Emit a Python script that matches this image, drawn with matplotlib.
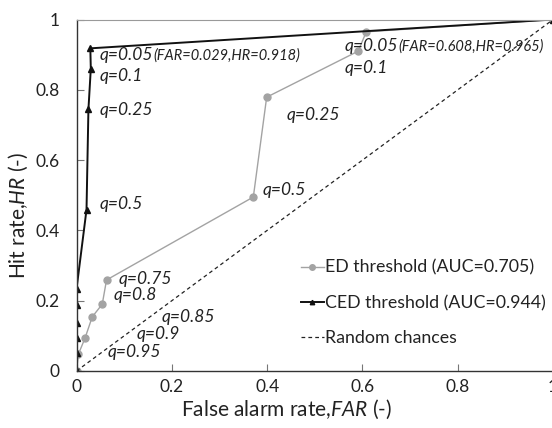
import matplotlib
matplotlib.use("Agg")
import matplotlib.pyplot as plt

plt.rcParams['font.family'] = ['Lato', 'DejaVu Sans']
plt.rcParams['mathtext.fontset'] = 'custom'
plt.rcParams['mathtext.it'] = 'Lato:italic'
plt.rcParams['mathtext.rm'] = 'Lato'

# ROC points (FAR, HR) for each threshold type
ed_far = [0.0, 0.004, 0.018, 0.033, 0.054, 0.063, 0.371, 0.399, 0.591, 0.608, 1.0]
ed_hr = [0.0, 0.048, 0.094, 0.154, 0.190, 0.259, 0.495, 0.779, 0.910, 0.965, 1.0]

ced_far = [0.0, 0.0, 0.0, 0.0, 0.0, 0.0, 0.021, 0.025, 0.030, 0.029, 1.0]
ced_hr = [0.0, 0.050, 0.093, 0.136, 0.188, 0.233, 0.459, 0.744, 0.860, 0.918, 1.0]

rand_x = [0.0, 1.0]
rand_y = [0.0, 1.0]

legend_labels = ["ED threshold (AUC=0.705)", "CED threshold (AUC=0.944)", "Random chances"]

# Quantile annotations: (text, FAR, HR)
ced_notes = [("q=0.1", 0.049, 0.84), ("q=0.25", 0.049, 0.743), ("q=0.5", 0.049, 0.476)]
ed_notes = [("q=0.1", 0.563, 0.862), ("q=0.25", 0.44, 0.729), ("q=0.5", 0.391, 0.516),
            ("q=0.75", 0.088, 0.262), ("q=0.8", 0.077, 0.216), ("q=0.85", 0.179, 0.155),
            ("q=0.9", 0.126, 0.105), ("q=0.95", 0.066, 0.055)]
ced_top = ("q=0.05", "(FAR=0.029,HR=0.918)", 0.049, 0.90)
ed_top = ("q=0.05", "(FAR=0.608,HR=0.965)", 0.563, 0.924)

fig = plt.figure(figsize=(5.52, 4.28), dpi=100)
ax = fig.add_axes([0.1386, 0.1332, 0.8634, 0.8212])

ed_color = "#a3a3a3"
ax.plot(ed_far, ed_hr, color=ed_color, lw=1.0, marker="o", ms=5, mfc=ed_color, mec=ed_color,
        label=legend_labels[0])
ax.plot(ced_far, ced_hr, color="#111111", lw=1.4, marker="^", ms=4, mfc="#111111", mec="#111111",
        label=legend_labels[1])
ax.plot(rand_x, rand_y, color="#222222", lw=0.9, ls=(0, (3, 2.5)), label=legend_labels[2])

note_kw = dict(fontsize=12.5, style="italic", color="#222222", va="center", ha="left")
for txt, x, y in ced_notes + ed_notes:
    ax.text(x, y, txt, **note_kw)

for main, sub, x, y in (ced_top, ed_top):
    t = ax.text(x, y, main, **note_kw)
    ax.annotate(sub, xy=(1, 0.45), xycoords=t, va="center", ha="left",
                fontsize=10.5, style="italic", color="#222222")

ax.set_xlim(0, 1)
ax.set_ylim(0, 1)
ax.set_xticks([0, 0.2, 0.4, 0.6, 0.8, 1])
ax.set_xticklabels(["0", "0.2", "0.4", "0.6", "0.8", "1"])
ax.set_yticks([0, 0.2, 0.4, 0.6, 0.8, 1])
ax.set_yticklabels(["0", "0.2", "0.4", "0.6", "0.8", "1"])
ax.tick_params(axis="both", direction="in", length=5, width=0.8, colors="#777777",
               labelcolor="#222222", labelsize=12.5)
ax.tick_params(axis="y", pad=12)
ax.tick_params(axis="x", pad=6)

for side in ("left", "bottom"):
    ax.spines[side].set_color("#333333")
    ax.spines[side].set_linewidth(1.0)
ax.spines["top"].set_color("#9a9a9a")
ax.spines["right"].set_color("#9a9a9a")

ax.set_xlabel("False alarm rate,$\\mathit{FAR}$ (-)", fontsize=15, color="#222222")
ax.set_ylabel("Hit rate,$\\mathit{HR}$ (-)", fontsize=15, color="#222222")
ax.xaxis.set_label_coords(0.44, -0.075)
ax.yaxis.set_label_coords(-0.098, 0.444)

ax.legend(loc="lower left", bbox_to_anchor=(0.47, 0.07), frameon=False, fontsize=12.8,
          borderpad=0, borderaxespad=0, handlelength=1.3, handletextpad=0.1,
          labelspacing=1.08, markerscale=0.8, labelcolor="#222222")

fig.savefig("out.png", dpi=100)
